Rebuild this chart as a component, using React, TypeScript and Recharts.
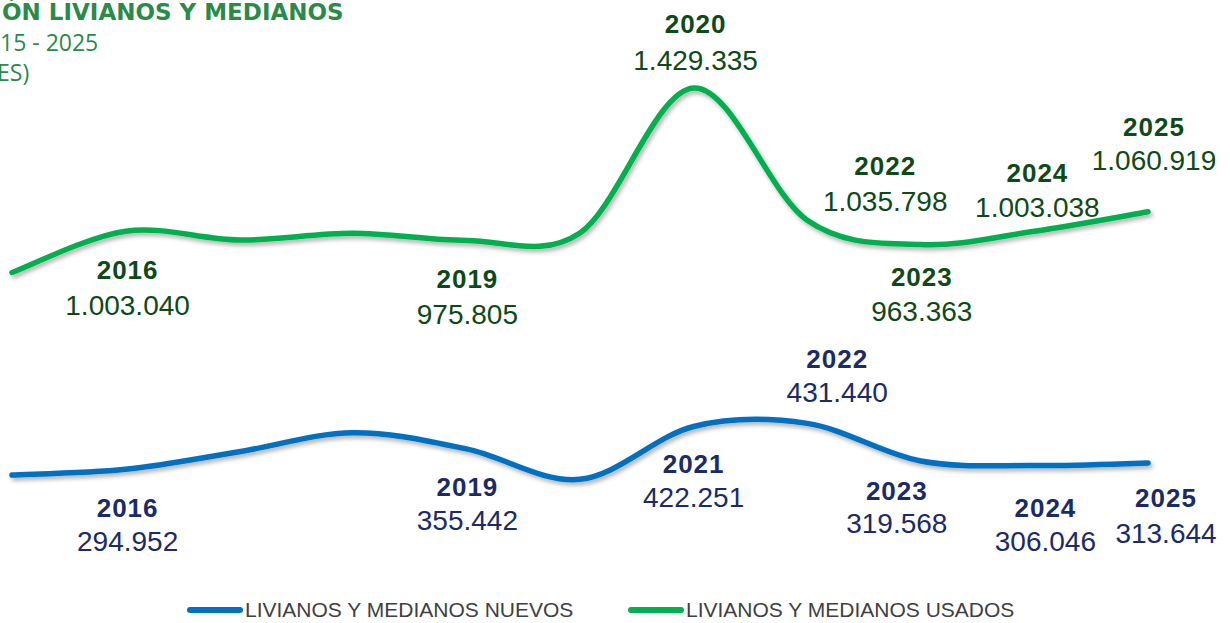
import React from 'react';
import { LineChart, Line, XAxis, YAxis } from 'recharts';

// traspasos livianos y medianos, 2015 - 2025
const years = ['2015', '2016', '2017', '2018', '2019', '2020', '2021', '2022', '2023', '2024', '2025'];
const usados = [880300, 1003040, 977000, 996900, 975805, 998000, 1429335, 1035798, 963363, 1003038, 1060919];
const nuevos = [277900, 294952, 347200, 403700, 355442, 265000, 422251, 431440, 319568, 306046, 313644];

// year text printed above each value label (null = no label)
const usadosLabelYears = [null, '2016', null, null, '2019', null, '2020', '2022', '2023', '2024', '2025'];
const nuevosLabelYears = [null, '2016', null, null, '2019', null, '2021', '2022', '2023', '2024', '2025'];

const seriesNames = ['LIVIANOS Y MEDIANOS NUEVOS', 'LIVIANOS Y MEDIANOS USADOS'];

const data = years.map((y, i) => ({ year: y, usados: usados[i], nuevos: nuevos[i] }));

// label placement relative to the point: [dx, year baseline dy, value baseline dy]
const usadosPlace: Record<number, number[]> = {
  1: [2, 48, 84], 4: [1, 48, 84], 6: [2, -55, -18], 7: [78, -45, -9],
  8: [1, 41, 76], 9: [3, -49, -14], 10: [6, -76, -42],
};
const nuevosPlace: Record<number, number[]> = {
  1: [2, 48, 82], 4: [1, 47, 81], 6: [0, 47, 81], 7: [30, -55, -21],
  8: [-24, 39, 72], 9: [11, 51, 85], 10: [18, 44, 80],
};

const GREEN = '#00B050';
const BLUE = '#0070C0';
const GREEN_TXT = '#0E4A18';
const BLUE_TXT = '#1B2B66';
const FONT = '"Liberation Sans", Arial, sans-serif';

const fmt = (v: number) => String(Math.round(v)).replace(/\B(?=(\d{3})+(?!\d))/g, '.');

// Excel-style smoothed line (Catmull-Rom through every point)
function excelSmooth(context: any) {
  let pts: number[][] = [];
  return {
    areaStart() {},
    areaEnd() {},
    lineStart() { pts = []; },
    point(x: number, y: number) { pts.push([+x, +y]); },
    lineEnd() {
      if (!pts.length) return;
      context.moveTo(pts[0][0], pts[0][1]);
      for (let i = 0; i < pts.length - 1; i++) {
        const p0 = pts[Math.max(i - 1, 0)];
        const p1 = pts[i];
        const p2 = pts[i + 1];
        const p3 = pts[Math.min(i + 2, pts.length - 1)];
        context.bezierCurveTo(
          p1[0] + (p2[0] - p0[0]) / 6, p1[1] + (p2[1] - p0[1]) / 6,
          p2[0] - (p3[0] - p1[0]) / 6, p2[1] - (p3[1] - p1[1]) / 6,
          p2[0], p2[1]
        );
      }
    },
  };
}

function makeLabel(labelYears: (string | null)[], place: Record<number, number[]>, color: string) {
  return (props: any) => {
    const { cx, cy, index, value } = props;
    const yr = labelYears[index];
    if (!yr || cx == null) return <g key={`n-${index}`} />;
    const [dx, dyY, dyV] = place[index];
    return (
      <g key={`l-${index}`}>
        <text x={cx + dx} y={cy + dyY} textAnchor="middle" fill={color}
          style={{ fontFamily: FONT, fontWeight: 700, fontSize: 26, letterSpacing: 1 }}>
          {yr}
        </text>
        <text x={cx + dx} y={cy + dyV} textAnchor="middle" fill={color}
          style={{ fontFamily: FONT, fontSize: 28 }}>
          {fmt(Array.isArray(value) ? value[1] : value)}
        </text>
      </g>
    );
  };
}

export default function App() {
  return (
    <div style={{ position: 'absolute', left: 0, top: 0, width: 1230, height: 623, background: '#fff', overflow: 'hidden' }}>
      <style>{`.recharts-line-curve { filter: url(#lineShadow); }`}</style>
      <svg width={0} height={0} style={{ position: 'absolute' }}>
        <defs>
          <filter id="lineShadow" filterUnits="userSpaceOnUse" x={0} y={0} width={1230} height={623}>
            <feDropShadow dx={2} dy={3} stdDeviation={2} floodColor="#000" floodOpacity={0.3} />
          </filter>
        </defs>
      </svg>

      <div style={{ position: 'absolute', left: 0, top: 0, color: '#2A8A47', whiteSpace: 'nowrap' }}>
        <div style={{ position: 'absolute', left: 2, top: -1, fontFamily: '"DejaVu Sans", sans-serif', fontWeight: 700, fontSize: 23 }}>
          ÓN LIVIANOS Y MEDIANOS
        </div>
        <div style={{ position: 'absolute', left: 0, top: 26, fontFamily: '"Open Sans", sans-serif', fontSize: 23 }}>
          15 - 2025
        </div>
        <div style={{ position: 'absolute', left: -3, top: 56, fontFamily: '"Open Sans", sans-serif', fontSize: 23 }}>
          ES)
        </div>
      </div>

      <LineChart width={1230} height={623} data={data}
        margin={{ top: 30.6, right: 82, bottom: 54.6, left: 12 }}>
        <XAxis dataKey="year" hide />
        <YAxis hide domain={[0, 1600000]} />
        <Line dataKey="usados" stroke={GREEN} strokeWidth={5.5} strokeLinecap="round" type={excelSmooth as any}
          dot={makeLabel(usadosLabelYears, usadosPlace, GREEN_TXT)} activeDot={false} isAnimationActive={false} />
        <Line dataKey="nuevos" stroke={BLUE} strokeWidth={5.5} strokeLinecap="round" type={excelSmooth as any}
          dot={makeLabel(nuevosLabelYears, nuevosPlace, BLUE_TXT)} activeDot={false} isAnimationActive={false} />
      </LineChart>

      <div style={{ position: 'absolute', left: 0, top: 596, width: 1230, height: 27, fontFamily: FONT, fontSize: 21, color: '#404040' }}>
        {[BLUE, GREEN].map((c, i) => (
          <div key={i} style={{ position: 'absolute', left: i === 0 ? 187 : 628, top: 0, display: 'flex', alignItems: 'center', whiteSpace: 'nowrap' }}>
            <span style={{ display: 'inline-block', width: 56, height: 6, borderRadius: 3, background: c, marginRight: 2 }} />
            <span style={{ lineHeight: '27px' }}>{seriesNames[i]}</span>
          </div>
        ))}
      </div>
    </div>
  );
}
